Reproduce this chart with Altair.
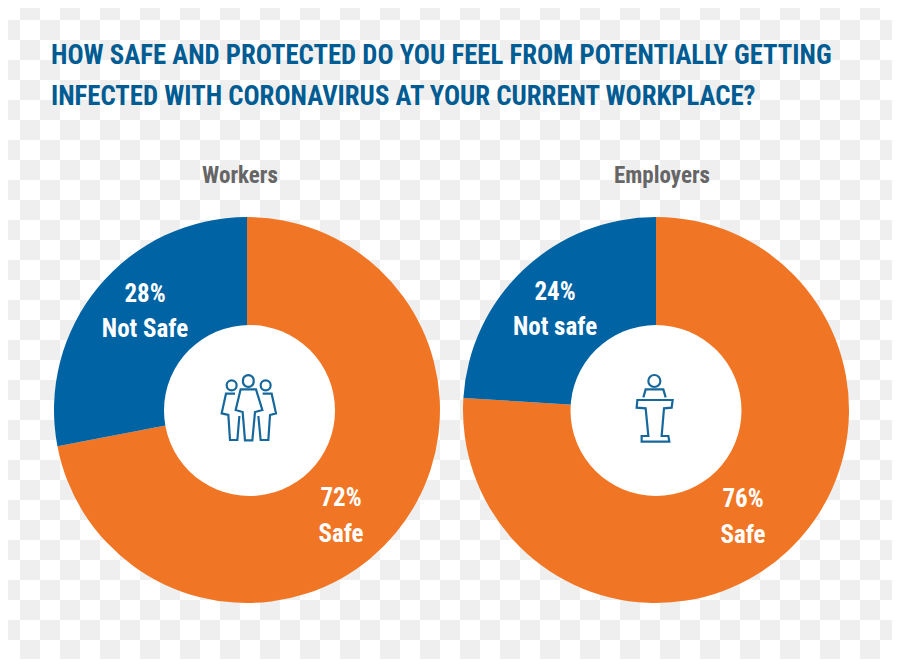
import altair as alt
import pandas as pd

TITLE_LINES = ["HOW SAFE AND PROTECTED DO YOU FEEL FROM POTENTIALLY GETTING",
               "INFECTED WITH CORONAVIRUS AT YOUR CURRENT WORKPLACE?"]
GROUPS = ["Workers", "Employers"]
SAFE = [72, 76]
NOT_SAFE = [28, 24]
NOT_SAFE_LABELS = ["Not Safe", "Not safe"]
SAFE_LABELS = ["Safe", "Safe"]

BLUE, ORANGE = "#0063a3", "#f07625"
TITLE_C, GRAY, ICON_C = "#005c92", "#666666", "#16689c"
FONT = "Roboto Condensed"
W, H = 884, 651

def px(v):
    return v - 8

# faint checkered backdrop of the source picture
cells = pd.DataFrame([
    {"x0": c * 20, "x1": c * 20 + 20, "y0": r * 20, "y1": r * 20 + 20}
    for c in range(45) for r in range(34) if (c + r) % 2 == 1
])
xs = alt.Scale(domain=[8, 892], range=[0, W], nice=False, zero=False)
ys = alt.Scale(domain=[8, 659], range=[0, H], nice=False, zero=False)
layers = [
    alt.Chart(cells).mark_rect(color="#efefef", clip=True).encode(
        x=alt.X("x0:Q", scale=xs, axis=None), x2="x1:Q",
        y=alt.Y("y0:Q", scale=ys, axis=None), y2="y1:Q")
]

def text(s, x, y, size, color, weight="normal", align="center"):
    return alt.Chart(pd.DataFrame({"t": [s]})).mark_text(
        font=FONT, fontSize=size, color=color, fontWeight=weight,
        align=align, baseline="alphabetic"
    ).encode(text="t:N", x=alt.value(px(x)), y=alt.value(px(y)))

def path(points, cx, cy, ox, oy, closed=True):
    u = lambda p: f"{(ox + p[0] / 3 - cx) / 50:.3f} {(oy + p[1] / 3 - cy) / 50:.3f}"
    return "M" + " L".join(u(p) for p in points) + ("Z" if closed else "")

def circle(x, y, r, cx, cy, ox, oy):
    a = (ox + x / 3 - cx) / 50
    b = (oy + y / 3 - cy) / 50
    q = r / 3 / 50
    return (f"M{a - q:.3f} {b:.3f} A{q:.3f} {q:.3f} 0 1 1 {a + q:.3f} {b:.3f} "
            f"A{q:.3f} {q:.3f} 0 1 1 {a - q:.3f} {b:.3f}Z")

PEOPLE = " ".join([
    circle(145, 63, 16, 250, 410, 200, 360),
    circle(95, 76, 15, 250, 410, 200, 360),
    circle(197, 76, 15, 250, 410, 200, 360),
    path([(122, 88), (168, 88), (187, 150), (165, 156), (157, 241), (135, 241), (128, 156), (107, 150)], 250, 410, 200, 360),
    path([(105, 101), (78, 101), (65, 160), (85, 165), (90, 240), (112, 240), (118, 168)], 250, 410, 200, 360, False),
    path([(188, 101), (215, 101), (228, 160), (210, 165), (205, 240), (182, 240), (175, 168)], 250, 410, 200, 360, False),
])
PODIUM = " ".join([
    circle(133, 63, 18, 655, 410, 610, 360),
    path([(100, 112), (107, 88), (160, 88), (167, 112)], 655, 410, 610, 360, False),
    path([(82, 120), (188, 120), (185, 143), (162, 145), (155, 228), (175, 228), (178, 245),
          (95, 245), (95, 228), (115, 228), (107, 145), (80, 143)], 655, 410, 610, 360),
])
ICONS = [PEOPLE, PODIUM]
CENTERS = [(247, 410), (656, 410)]
HOLES = [(249.5, 410.5), (656, 410.5)]
ICON_AT = [(250, 410), (655, 410)]
HEAD_AT = [(240, 175), (662, 175)]
NS_AT = [(145, 293), (555, 291)]
S_AT = [(341, 497), (743, 498)]

for i, g in enumerate(GROUPS):
    df = pd.DataFrame({"part": ["Safe", "Not Safe"], "value": [SAFE[i], NOT_SAFE[i]], "o": [0, 1]})
    cx, cy = CENTERS[i]
    layers.append(alt.Chart(df).mark_arc(radius=193, radius2=75).encode(
        theta=alt.Theta("value:Q", stack=True, scale=alt.Scale(domain=[0, 100])),
        order=alt.Order("o:Q"),
        color=alt.Color("part:N", legend=None,
                        scale=alt.Scale(domain=["Safe", "Not Safe"], range=[ORANGE, BLUE])),
        x=alt.value(px(cx)), y=alt.value(px(cy))))
    hx, hy = HOLES[i]
    layers.append(alt.Chart(pd.DataFrame({"g": [g]})).mark_point(
        shape="circle", size=171 * 171, filled=True, color="white", opacity=1, strokeWidth=0
    ).encode(x=alt.value(px(hx)), y=alt.value(px(hy))))
    ix, iy = ICON_AT[i]
    layers.append(alt.Chart(pd.DataFrame({"g": [g]})).mark_point(
        shape=ICONS[i], size=10000, filled=False, color=ICON_C, opacity=1, strokeWidth=2.2
    ).encode(x=alt.value(px(ix)), y=alt.value(px(iy))))
    layers.append(text(g, HEAD_AT[i][0], HEAD_AT[i][1] + 8, 23, GRAY, "bold"))
    layers.append(text(f"{NOT_SAFE[i]}%", NS_AT[i][0], NS_AT[i][1] + 9, 25, "white", "bold"))
    layers.append(text(NOT_SAFE_LABELS[i], NS_AT[i][0], NS_AT[i][1] + 44, 25, "white", "bold"))
    layers.append(text(f"{SAFE[i]}%", S_AT[i][0], S_AT[i][1] + 9, 25, "white", "bold"))
    layers.append(text(SAFE_LABELS[i], S_AT[i][0], S_AT[i][1] + 45, 25, "white", "bold"))

layers.append(text(TITLE_LINES[0], 51, 64, 26.75, TITLE_C, "bold", "left"))
layers.append(text(TITLE_LINES[1], 51, 105, 26.75, TITLE_C, "bold", "left"))

chart = alt.layer(*layers).properties(
    width=W, height=H, padding=0, autosize=alt.AutoSizeParams(type="none"), background="white"
).resolve_scale(theta="independent", color="independent").configure_view(stroke=None)
chart.save("out.html", embed_options={"renderer": "svg", "actions": False})
